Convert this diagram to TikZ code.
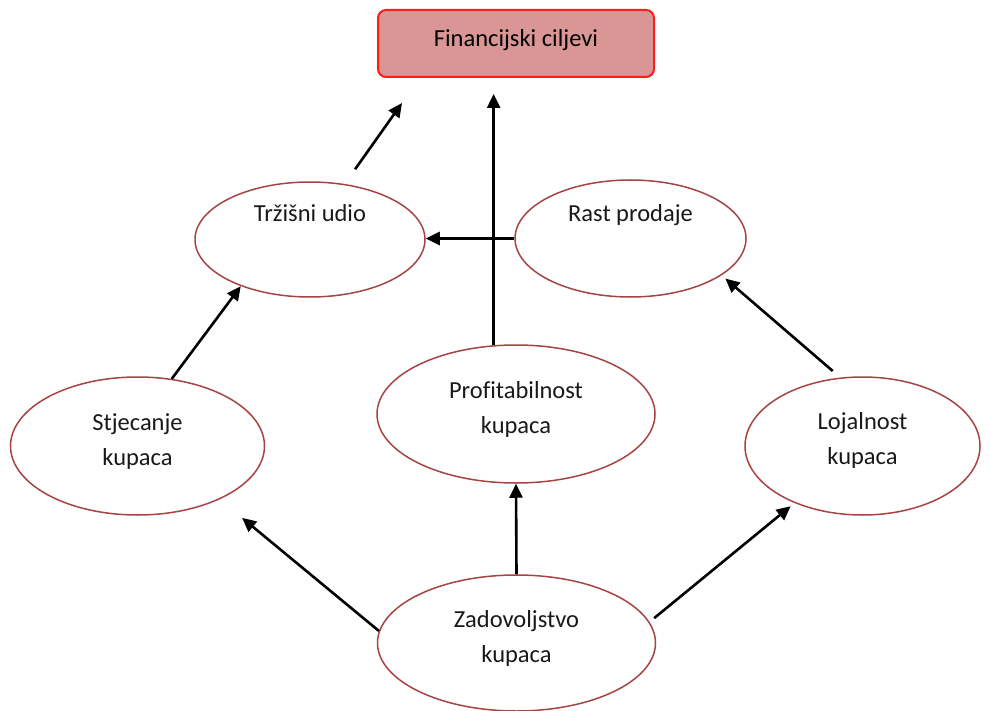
\documentclass[tikz,border=0pt]{standalone}
\usepackage{fontspec}
\setmainfont{Carlito}[Ligatures=NoCommon]
\usetikzlibrary{shapes.geometric,arrows.meta}
\definecolor{ellc}{RGB}{165,68,66}
\definecolor{finfill}{RGB}{217,150,148}
\definecolor{finborder}{RGB}{250,30,30}
\begin{document}
\begin{tikzpicture}[x=1pt,y=-1pt,
  ell/.style={ellipse, draw=ellc, line width=1.5pt, inner sep=0pt},
  lbl/.style={font=\fontsize{24.5}{35}\selectfont, inner sep=0pt, text=black!90},
  arr/.style={-{Triangle[length=14pt,width=13pt]}, line width=2.6pt, black}]
\useasboundingbox (0,0) rectangle (990,711);
\node[draw=finborder, fill=finfill, line width=2pt, rounded corners=8pt,
      minimum width=276pt, minimum height=67pt, inner sep=0pt,
      font=\fontsize{24.5}{30}\selectfont, text height=17pt, text depth=10pt]
      (fin) at (516,43.5) {Financijski ciljevi};
\node[ell, minimum width=230pt, minimum height=115pt] (trz) at (310,239.5) {};
\node[ell, minimum width=231pt, minimum height=117pt] (rast) at (630.5,238.5) {};
\node[ell, minimum width=254pt, minimum height=138pt] (stj) at (137.5,446) {};
\node[ell, minimum width=278pt, minimum height=138pt] (prof) at (516,414) {};
\node[ell, minimum width=235pt, minimum height=138pt] (loj) at (862.5,446) {};
\node[ell, minimum width=278pt, minimum height=136pt] (zad) at (516.5,643) {};
\node[lbl, anchor=base] (trzl) at ([yshift=17.5pt]trz.center) {Tržišni udio};
\node[lbl, anchor=base] (rastl) at ([yshift=16.5pt]rast.center) {Rast prodaje};
\node[lbl] (stjl) at ([yshift=5.5pt]stj.center) {\begin{tabular}{@{}c@{}}Stjecanje\\kupaca\end{tabular}};
\node[lbl] (profl) at ([yshift=5.5pt]prof.center) {\begin{tabular}{@{}c@{}}Profitabilnost\\kupaca\end{tabular}};
\node[lbl] (lojl) at ([yshift=6pt]loj.center) {\begin{tabular}{@{}c@{}}Lojalnost\\kupaca\end{tabular}};
\node[lbl] (zadl) at ([yshift=5.5pt]zad.center) {\begin{tabular}{@{}c@{}}Zadovoljstvo\\kupaca\end{tabular}};
\coordinate (finpt) at (402,103);
\draw[arr, shorten <=18pt] (trz.58) -- (finpt);
\draw[arr, shorten >=16pt] (prof.108.67) -- (prof.108.67 |- fin.south);
\draw[arr] (rast.west) -- (rast.west -| trz.east);
\draw[arr] (stj.63) -- (trz.214);
\draw[arr, shorten <=10pt, shorten >=5pt] (loj.108) -- (rast.-22.5);
\draw[arr, shorten >=29pt] (zad.175) -- (stj.-33);
\draw[arr, shorten <=6pt, shorten >=5pt] (zad.9) -- (loj.220.6);
\draw[arr] (zad.north) -- (prof.south);
\end{tikzpicture}
\end{document}
